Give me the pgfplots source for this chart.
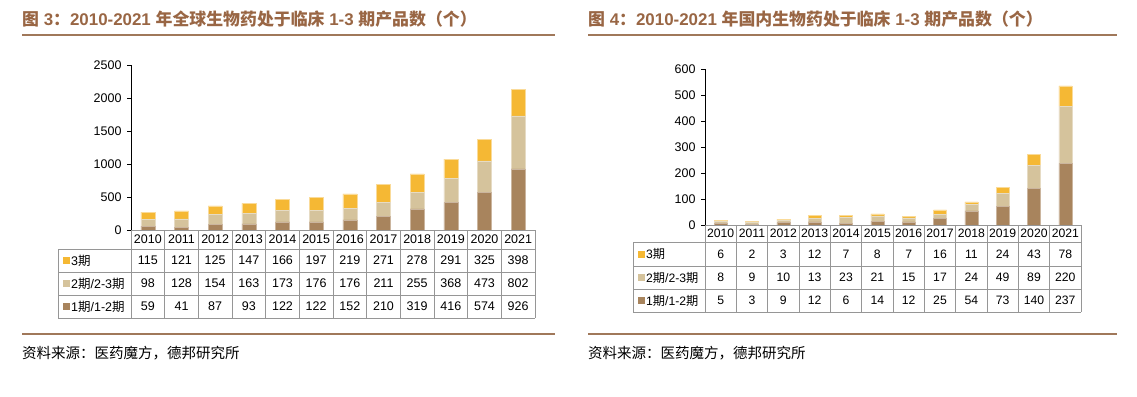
\documentclass[border=0pt]{standalone}
\usepackage{pgfplots}
\usepackage{pgfplotstable}
\pgfplotsset{compat=1.18}
\usepackage{fontspec}
\setmainfont{Liberation Sans}
\newfontfamily\cjk{Noto Sans CJK SC}
\definecolor{cA}{RGB}{168,132,93}
\definecolor{cB}{RGB}{213,195,156}
\definecolor{cC}{RGB}{245,184,52}
\definecolor{titlecol}{RGB}{153,102,68}
\definecolor{rulecol}{RGB}{160,120,90}
\definecolor{gridcol}{RGB}{150,150,150}

\pgfplotstableread{
x yr p1 p2 p3
0 2010 59 98 115
1 2011 41 128 121
2 2012 87 154 125
3 2013 93 163 147
4 2014 122 173 166
5 2015 122 176 197
6 2016 152 176 219
7 2017 210 211 271
8 2018 319 255 278
9 2019 416 368 291
10 2020 574 473 325
11 2021 926 802 398
}\tabA

\pgfplotstableread{
x yr p1 p2 p3
0 2010 5 8 6
1 2011 3 9 2
2 2012 9 10 3
3 2013 12 13 12
4 2014 6 23 7
5 2015 14 21 8
6 2016 12 15 7
7 2017 25 17 16
8 2018 54 24 11
9 2019 73 49 24
10 2020 140 89 43
11 2021 237 220 78
}\tabB

\pgfplotsset{
  barax/.style={
    scale only axis, xmin=-0.5, xmax=11.5, ymin=0,
    axis x line=none, axis y line*=left,
    y axis line style={black, line width=0.8pt},
    ybar stacked, xtick=\empty,
    tick align=outside, major tick length=4pt,
    ytick style={black, line width=0.6pt},
    yticklabel style={font=\fontsize{12.5}{14}\selectfont, xshift=-2pt},
    /pgf/number format/1000 sep={},
    /pgf/number format/assume math mode=true,
    clip=false,
  }
}

% #1 table, #2 L, #3 X0, #4 W, #5 h0, #6 h1, #7 r1, #8 r2, #9 r3
\newcommand\datatable[9]{%
  \pgfmathsetmacro\R{#3+12*#4}
  \draw[gridcol, line width=1pt] (#3,#5) -- (\R,#5);
  \draw[gridcol, line width=1pt] (#2,#6) -- (\R,#6);
  \draw[gridcol, line width=1pt] (#2,#7) -- (\R,#7);
  \draw[gridcol, line width=1pt] (#2,#8) -- (\R,#8);
  \draw[gridcol, line width=1pt] (#2,#9) -- (\R,#9);
  \draw[gridcol, line width=1pt] (#2,#6) -- (#2,#9);
  \foreach \k in {0,...,12}{\draw[gridcol, line width=1pt] ({#3+\k*#4},#5) -- ({#3+\k*#4},#9);}
  \foreach \i in {0,...,11}{
    \pgfplotstablegetelem{\i}{yr}\of#1\let\vyr\pgfplotsretval
    \pgfplotstablegetelem{\i}{p3}\of#1\let\vc\pgfplotsretval
    \pgfplotstablegetelem{\i}{p2}\of#1\let\vb\pgfplotsretval
    \pgfplotstablegetelem{\i}{p1}\of#1\let\va\pgfplotsretval
    \node[font=\tabfont, inner sep=0pt] at ({#3+(\i+0.5)*#4},{(#5+#6)/2}) {\vyr};
    \node[font=\tabfont, inner sep=0pt] at ({#3+(\i+0.5)*#4},{(#6+#7)/2}) {\vc};
    \node[font=\tabfont, inner sep=0pt] at ({#3+(\i+0.5)*#4},{(#7+#8)/2}) {\vb};
    \node[font=\tabfont, inner sep=0pt] at ({#3+(\i+0.5)*#4},{(#8+#9)/2}) {\va};
  }
  \fill[cC] ({#2+5},{(#6+#7)/2-3.5}) rectangle ++(7,7);
  \fill[cB] ({#2+5},{(#7+#8)/2-3.5}) rectangle ++(7,7);
  \fill[cA] ({#2+5},{(#8+#9)/2-3.5}) rectangle ++(7,7);
  \node[anchor=west, font=\tabfont, inner sep=0pt] at ({#2+13},{(#6+#7)/2}) {3{\cjk 期}};
  \node[anchor=west, font=\tabfont, inner sep=0pt] at ({#2+13},{(#7+#8)/2}) {2{\cjk 期}/2-3{\cjk 期}};
  \node[anchor=west, font=\tabfont, inner sep=0pt] at ({#2+13},{(#8+#9)/2}) {1{\cjk 期}/1-2{\cjk 期}};
}

\begin{document}
\begin{tikzpicture}[x=1pt,y=1pt]
\path[use as bounding box] (0,0) rectangle (1137,-396);

\begin{axis}[barax, at={(131pt,-230pt)}, anchor=south west, width=404pt, height=165pt,
  ymax=2500, ytick={0,500,...,2500}, bar width=14pt]
\addplot[fill=cA, draw=cA!60!white, line width=0.5pt] table[x=x,y=p1]{\tabA};
\addplot[fill=cB, draw=cB!60!white, line width=0.5pt] table[x=x,y=p2]{\tabA};
\addplot[fill=cC, draw=cC!50!white, line width=0.5pt] table[x=x,y=p3]{\tabA};
\end{axis}

\begin{axis}[barax, at={(705pt,-225pt)}, anchor=south west, width=376pt, height=156pt,
  ymax=600, ytick={0,100,...,600}, bar width=13pt]
\addplot[fill=cA, draw=cA!60!white, line width=0.5pt] table[x=x,y=p1]{\tabB};
\addplot[fill=cB, draw=cB!60!white, line width=0.5pt] table[x=x,y=p2]{\tabB};
\addplot[fill=cC, draw=cC!50!white, line width=0.5pt] table[x=x,y=p3]{\tabB};
\end{axis}

\begin{scope}[y=-1pt]
% ---------- left panel ----------
\node[anchor=west, text=titlecol, font=\bfseries\fontsize{16.9}{19}\selectfont, inner sep=0pt] at (22,19)
  {{\cjk\bfseries 图} 3{\cjk\bfseries ：}2010-2021 {\cjk\bfseries 年全球生物药处于临床} 1-3 {\cjk\bfseries 期产品数（个）}};
\draw[rulecol, line width=2pt] (22,35) -- (555,35);
\draw[rulecol, line width=2pt] (22,334) -- (555,334);
\node[anchor=west, font=\fontsize{14.5}{16}\selectfont, inner sep=0pt] at (22,353) {\cjk 资料来源：医药魔方，德邦研究所};
\def\tabfont{\fontsize{12.5}{14}\selectfont}
\datatable{\tabA}{58}{131}{33.6667}{230}{249}{272}{295}{318}

% ---------- right panel ----------
\node[anchor=west, text=titlecol, font=\bfseries\fontsize{16.9}{19}\selectfont, inner sep=0pt] at (588,19)
  {{\cjk\bfseries 图} 4{\cjk\bfseries ：}2010-2021 {\cjk\bfseries 年国内生物药处于临床} 1-3 {\cjk\bfseries 期产品数（个）}};
\draw[rulecol, line width=2pt] (588,35) -- (1117,35);
\draw[rulecol, line width=2pt] (588,334) -- (1117,334);
\node[anchor=west, font=\fontsize{14.5}{16}\selectfont, inner sep=0pt] at (588,353) {\cjk 资料来源：医药魔方，德邦研究所};
\def\tabfont{\fontsize{12.2}{14}\selectfont}
\datatable{\tabB}{633}{705}{31.3333}{225}{242}{266}{289}{312}
\end{scope}
\end{tikzpicture}
\end{document}
